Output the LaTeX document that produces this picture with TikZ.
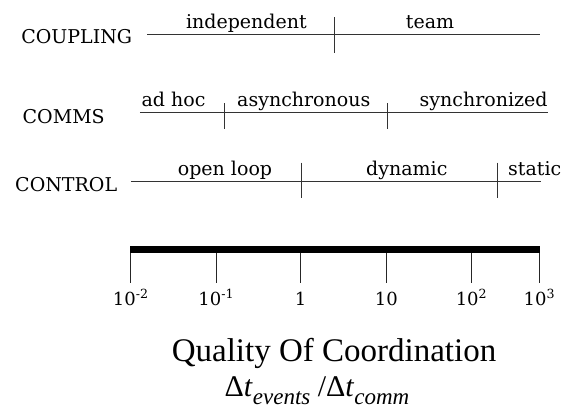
\documentclass[tikz,border=0pt]{standalone}
\usepackage{fontspec}
\setmainfont{DejaVu Serif}
\newfontfamily\titlefont{Liberation Serif}
\usetikzlibrary{positioning}

\newcommand{\lowsub}[1]{\raisebox{-8pt}{\fontsize{23}{24}\selectfont\itshape #1}}

\begin{document}
\begin{tikzpicture}[
    x=1pt, y=-1pt,
    font=\fontsize{19}{22}\selectfont,
    rowname/.style={anchor=center, inner sep=0pt},
    zone/.style={anchor=base, inner sep=0pt},
    scaleline/.style={draw=black!80, line width=1pt},
    divider/.style={draw=black!80, line width=1pt},
    bar/.style={draw=black, line width=6.5pt},
    tickmark/.style={draw=black!85, line width=1pt},
    value/.style={anchor=base, inner sep=0pt, font=\fontsize{18}{20}\selectfont}
  ]
  \useasboundingbox (0,0) rectangle (561,410);

  % Coupling row
  \node[rowname] (coupling) at (76.7,37) {COUPLING};
  \coordinate (coupling-start) at (147,34.7);
  \coordinate (coupling-end) at (540,34.7);
  \draw[scaleline] (coupling-start) -- (coupling-end);
  \coordinate (coupling-cut-top) at (334.7,17.3);
  \coordinate (coupling-cut-bottom) at (334.7,53.3);
  \draw[divider] (coupling-cut-top) -- (coupling-cut-bottom);
  \node[zone] (independent) at (246.4,28.5) {independent};
  \node[zone] (team) at (430,28.5) {team};

  % Comms row
  \node[rowname] (comms) at (63.7,117) {COMMS};
  \coordinate (comms-start) at (139.8,112.7);
  \coordinate (comms-end) at (548.4,112.7);
  \draw[scaleline] (comms-start) -- (comms-end);
  \foreach \x [count=\i] in {224,387} {
    \coordinate (comms-cut\i-top) at (\x,103);
    \coordinate (comms-cut\i-bottom) at (\x,129);
    \draw[divider] (comms-cut\i-top) -- (comms-cut\i-bottom);
  }
  \node[zone] (adhoc) at (173.5,106.5) {ad hoc};
  \node[zone] (async) at (303.8,106.5) {asynchronous};
  \node[zone] (sync) at (483.6,106.5) {synchronized};

  % Control row
  \node[rowname] (control) at (66.2,185) {CONTROL};
  \coordinate (control-start) at (130.8,181);
  \coordinate (control-end) at (541,181);
  \draw[scaleline] (control-start) -- (control-end);
  \foreach \x [count=\i] in {301,497.5} {
    \coordinate (control-cut\i-top) at (\x,162.7);
    \coordinate (control-cut\i-bottom) at (\x,198);
    \draw[divider] (control-cut\i-top) -- (control-cut\i-bottom);
  }
  \node[zone] (openloop) at (225,175) {open loop};
  \node[zone] (dynamic) at (406.8,175) {dynamic};
  \node[zone, anchor=base west] (static) at (508,175) {static};

  % Quality axis
  \coordinate (axis-start) at (130.2,249.5);
  \coordinate (axis-end) at (539.9,249.5);
  \foreach \x/\val [count=\i] in {130.7/10\textsuperscript{-2}, 216.3/10\textsuperscript{-1},
      300.7/1, 386.4/10, 471.5/10\textsuperscript{2}, 539.4/10\textsuperscript{3}} {
    \coordinate (tick\i-top) at (\x,249.5);
    \coordinate (tick\i-bottom) at (\x,283);
    \draw[tickmark] (tick\i-top) -- (tick\i-bottom);
    \node[value] (value\i) at (\x,305) {\val};
  }
  \draw[bar] (axis-start) -- (axis-end);

  % Axis title
  \node[anchor=base, font=\titlefont\fontsize{33}{36}\selectfont] (quality) at (334,361)
    {Quality Of Coordination};
  \node[anchor=base, font=\titlefont\fontsize{30}{32}\selectfont] (ratio) at (317,396)
    {Δ\textit{t}\lowsub{events} /Δ\textit{t}\lowsub{comm}};
\end{tikzpicture}
\end{document}
